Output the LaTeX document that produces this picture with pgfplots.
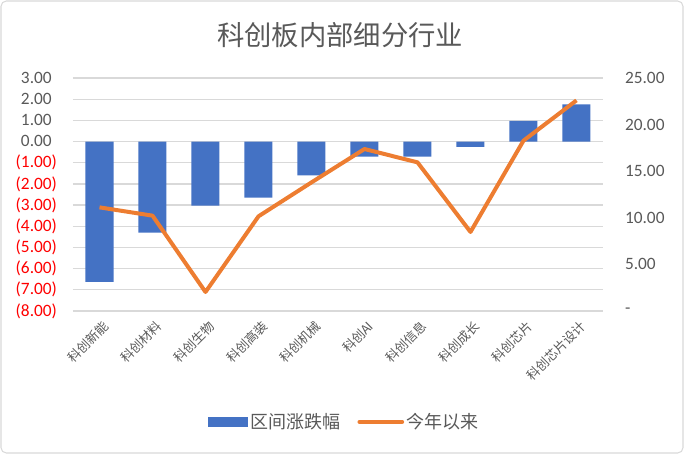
\documentclass[border=0pt]{standalone}
\usepackage{pgfplots}
\pgfplotsset{compat=1.18}
\usepackage{fontspec}
\setmainfont{Carlito}
\newfontfamily\cjk{Noto Sans CJK SC}
\definecolor{barblue}{HTML}{4472C4}
\definecolor{lineorange}{HTML}{ED7D31}
\definecolor{txtgray}{HTML}{595959}
\definecolor{gridgray}{HTML}{D9D9D9}
\definecolor{negred}{HTML}{FF0000}

\pgfplotsset{
  base/.style={
    scale only axis,
    width=397.5pt, height=174.75pt,
    at={(54.75pt,107.25pt)}, anchor=south west,
    xmin=-0.5, xmax=9.5,
    axis line style={draw=none},
    major tick length=0pt,
    yticklabel style={font=\fontsize{13}{15}\selectfont, text=txtgray},
  },
}

\begin{document}
\begin{tikzpicture}[x=0.75pt,y=0.75pt]
\path[use as bounding box] (0,0) rectangle (684,454);
\draw[gridgray, rounded corners=4pt, line width=0.8pt] (1,1) rectangle (683,453);
\node[text=txtgray, font=\cjk\fontsize{20.5}{24}\selectfont] at (340,419) {科创板内部细分行业};

% left axis: bars
\begin{axis}[
  base,
  ymin=-8, ymax=3,
  ytick={-8,-7,...,3},
  yticklabels={
    \textcolor{negred}{(8.00)},\textcolor{negred}{(7.00)},\textcolor{negred}{(6.00)},
    \textcolor{negred}{(5.00)},\textcolor{negred}{(4.00)},\textcolor{negred}{(3.00)},
    \textcolor{negred}{(2.00)},\textcolor{negred}{(1.00)},
    0.00\phantom{)},1.00\phantom{)},2.00\phantom{)},3.00\phantom{)}},
  yticklabel style={xshift=-8.5pt},
  ymajorgrids=true,
  grid style={gridgray, line width=1pt},
  xtick={0,...,9},
  xticklabels={科创新能,科创材料,科创生物,科创高装,科创机械,科创AI,科创信息,科创成长,科创芯片,科创芯片设计},
  xticklabel style={rotate=45, anchor=north east, text=txtgray, yshift=-2.5pt,
    font=\cjk\fontsize{9.6}{11}\selectfont},
  ybar, bar width=21pt,
]
\addplot[fill=barblue, draw=none] coordinates {
  (0,-6.62) (1,-4.30) (2,-3.03) (3,-2.65) (4,-1.60)
  (5,-0.71) (6,-0.71) (7,-0.25) (8,0.98) (9,1.76)
};
\end{axis}

% right axis: line
\begin{axis}[
  base,
  ymin=0, ymax=25,
  ytick={0,5,...,25},
  yticklabels={-,5.00,10.00,15.00,20.00,25.00},
  yticklabel pos=right,
  yticklabel style={xshift=13pt},
  xtick=\empty,
  legend style={at={(0.513,-0.476)}, anchor=center, draw=none, fill=none,
    legend columns=2, text=txtgray,
    font=\cjk\fontsize{13.5}{16}\selectfont,
    /tikz/every even column/.append style={column sep=11pt}},
]
\addlegendimage{legend image code/.code={\fill[barblue] (0pt,-3.5pt) rectangle (29pt,3.5pt);}}
\addlegendentry{区间涨跌幅}
\addplot[lineorange, line width=3pt, line join=round,
  legend image code/.code={\draw[lineorange, line width=3pt, line cap=round] (0pt,0pt) -- (32pt,0pt);}]
  coordinates {
  (0,11.12) (1,10.23) (2,2.04) (3,10.16) (4,13.8)
  (5,17.38) (6,15.95) (7,8.48) (8,18.28) (9,22.6)
};
\addlegendentry{今年以来}
\end{axis}
\end{tikzpicture}
\end{document}
